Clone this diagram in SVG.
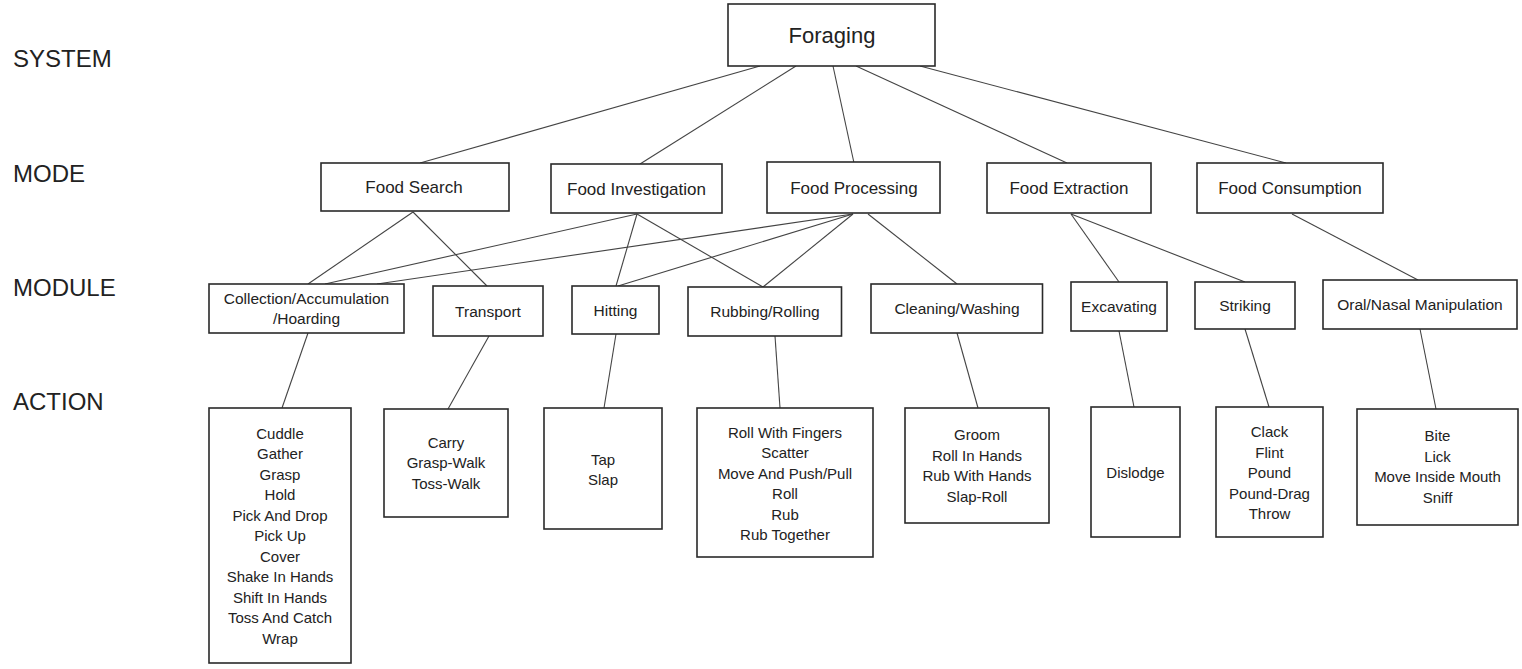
<svg xmlns="http://www.w3.org/2000/svg" width="1522" height="669" viewBox="0 0 1522 669">
<style>
  text { font-family: "Liberation Sans", Arial, sans-serif; fill: #222; }
  .box { fill: #fff; stroke: #2a2a2a; stroke-width: 1.6; }
  .lbl { font-size: 24px; }
  .sys { font-size: 22px; text-anchor: middle; }
  .mode { font-size: 17px; text-anchor: middle; }
  .mod { font-size: 15.5px; text-anchor: middle; }
  .act { font-size: 15px; text-anchor: middle; }
  .conn line { stroke: #444; stroke-width: 1.1; }
</style>
<rect width="1522" height="669" fill="#fff"/>

<g id="levels">
  <text class="lbl" x="13" y="67">SYSTEM</text>
  <text class="lbl" x="13" y="182">MODE</text>
  <text class="lbl" x="13" y="296">MODULE</text>
  <text class="lbl" x="13" y="410">ACTION</text>
</g>

<g class="conn" id="connectors">
  <!-- system to modes -->
  <line x1="760" y1="66" x2="420" y2="163"/>
  <line x1="796" y1="66" x2="640" y2="164"/>
  <line x1="833" y1="66" x2="854" y2="163"/>
  <line x1="856" y1="66" x2="1067" y2="163"/>
  <line x1="920" y1="66" x2="1286" y2="163"/>
  <!-- modes to modules -->
  <line x1="413" y1="212" x2="308" y2="284"/>
  <line x1="413" y1="212" x2="487" y2="286"/>
  <line x1="637" y1="214" x2="325" y2="284"/>
  <line x1="637" y1="214" x2="616" y2="286"/>
  <line x1="637" y1="214" x2="763" y2="287"/>
  <line x1="853" y1="214" x2="377" y2="284"/>
  <line x1="853" y1="214" x2="618" y2="286"/>
  <line x1="853" y1="214" x2="763" y2="287"/>
  <line x1="868" y1="214" x2="957" y2="284"/>
  <line x1="1071" y1="214" x2="1119" y2="282"/>
  <line x1="1071" y1="214" x2="1245" y2="282"/>
  <line x1="1292" y1="214" x2="1418" y2="280"/>
  <!-- modules to actions -->
  <line x1="308" y1="333" x2="282" y2="408"/>
  <line x1="489" y1="336" x2="448" y2="409"/>
  <line x1="616" y1="334" x2="604" y2="408"/>
  <line x1="775" y1="336" x2="780" y2="408"/>
  <line x1="957" y1="333" x2="978" y2="408"/>
  <line x1="1119" y1="331" x2="1134" y2="407"/>
  <line x1="1245" y1="329" x2="1269" y2="407"/>
  <line x1="1420" y1="329" x2="1436" y2="409"/>
</g>

<g id="foraging">
  <rect class="box" x="728" y="4" width="207" height="62"/>
  <text class="sys" x="832" y="43">Foraging</text>
</g>

<g id="food-search">
  <rect class="box" x="321" y="163" width="188" height="48"/>
  <text class="mode" x="414" y="193">Food Search</text>
</g>
<g id="food-investigation">
  <rect class="box" x="551" y="164" width="171" height="49"/>
  <text class="mode" x="636.5" y="194.5">Food Investigation</text>
</g>
<g id="food-processing">
  <rect class="box" x="767" y="162" width="173" height="51"/>
  <text class="mode" x="854" y="193.5">Food Processing</text>
</g>
<g id="food-extraction">
  <rect class="box" x="987" y="163" width="164" height="50"/>
  <text class="mode" x="1069" y="194">Food Extraction</text>
</g>
<g id="food-consumption">
  <rect class="box" x="1197" y="163" width="186" height="50"/>
  <text class="mode" x="1290" y="194">Food Consumption</text>
</g>

<g id="collection">
  <rect class="box" x="209" y="284" width="195" height="49"/>
  <text class="mod" x="306.5" y="303.5">Collection/Accumulation</text>
  <text class="mod" x="306.5" y="324">/Hoarding</text>
</g>
<g id="transport">
  <rect class="box" x="433" y="286" width="110" height="50"/>
  <text class="mod" x="488" y="316.5">Transport</text>
</g>
<g id="hitting">
  <rect class="box" x="572" y="286" width="87" height="48"/>
  <text class="mod" x="615.5" y="315.5">Hitting</text>
</g>
<g id="rubbing">
  <rect class="box" x="688" y="287" width="153.5" height="49"/>
  <text class="mod" x="765" y="317">Rubbing/Rolling</text>
</g>
<g id="cleaning">
  <rect class="box" x="871" y="284" width="171.5" height="49"/>
  <text class="mod" x="957" y="314">Cleaning/Washing</text>
</g>
<g id="excavating">
  <rect class="box" x="1071" y="282" width="96" height="49"/>
  <text class="mod" x="1119" y="312">Excavating</text>
</g>
<g id="striking">
  <rect class="box" x="1195" y="282" width="100" height="47"/>
  <text class="mod" x="1245" y="311">Striking</text>
</g>
<g id="oral-nasal">
  <rect class="box" x="1323" y="280" width="194" height="49"/>
  <text class="mod" x="1420" y="310">Oral/Nasal Manipulation</text>
</g>

<g id="act-collection">
  <rect class="box" x="209" y="408" width="142" height="255"/>
  <text class="act" x="280" y="438.5">Cuddle</text>
  <text class="act" x="280" y="459">Gather</text>
  <text class="act" x="280" y="479.5">Grasp</text>
  <text class="act" x="280" y="500">Hold</text>
  <text class="act" x="280" y="520.5">Pick And Drop</text>
  <text class="act" x="280" y="541">Pick Up</text>
  <text class="act" x="280" y="561.5">Cover</text>
  <text class="act" x="280" y="582">Shake In Hands</text>
  <text class="act" x="280" y="602.5">Shift In Hands</text>
  <text class="act" x="280" y="623">Toss And Catch</text>
  <text class="act" x="280" y="643.5">Wrap</text>
</g>
<g id="act-transport">
  <rect class="box" x="384" y="409" width="124" height="108"/>
  <text class="act" x="446" y="447.5">Carry</text>
  <text class="act" x="446" y="468">Grasp-Walk</text>
  <text class="act" x="446" y="488.5">Toss-Walk</text>
</g>
<g id="act-hitting">
  <rect class="box" x="544" y="408" width="118" height="121"/>
  <text class="act" x="603" y="464.5">Tap</text>
  <text class="act" x="603" y="485">Slap</text>
</g>
<g id="act-rubbing">
  <rect class="box" x="697" y="408" width="176" height="149"/>
  <text class="act" x="785" y="437.5">Roll With Fingers</text>
  <text class="act" x="785" y="458">Scatter</text>
  <text class="act" x="785" y="478.5">Move And Push/Pull</text>
  <text class="act" x="785" y="499">Roll</text>
  <text class="act" x="785" y="519.5">Rub</text>
  <text class="act" x="785" y="540">Rub Together</text>
</g>
<g id="act-cleaning">
  <rect class="box" x="905" y="408" width="144" height="115"/>
  <text class="act" x="977" y="440">Groom</text>
  <text class="act" x="977" y="460.5">Roll In Hands</text>
  <text class="act" x="977" y="481">Rub With Hands</text>
  <text class="act" x="977" y="501.5">Slap-Roll</text>
</g>
<g id="act-excavating">
  <rect class="box" x="1091" y="407" width="89" height="130"/>
  <text class="act" x="1135.5" y="478">Dislodge</text>
</g>
<g id="act-striking">
  <rect class="box" x="1216" y="407" width="107" height="130"/>
  <text class="act" x="1269.5" y="437">Clack</text>
  <text class="act" x="1269.5" y="457.5">Flint</text>
  <text class="act" x="1269.5" y="478">Pound</text>
  <text class="act" x="1269.5" y="498.5">Pound-Drag</text>
  <text class="act" x="1269.5" y="519">Throw</text>
</g>
<g id="act-oral">
  <rect class="box" x="1357" y="409" width="161" height="116"/>
  <text class="act" x="1437.5" y="441">Bite</text>
  <text class="act" x="1437.5" y="461.5">Lick</text>
  <text class="act" x="1437.5" y="482">Move Inside Mouth</text>
  <text class="act" x="1437.5" y="502.5">Sniff</text>
</g>
</svg>
